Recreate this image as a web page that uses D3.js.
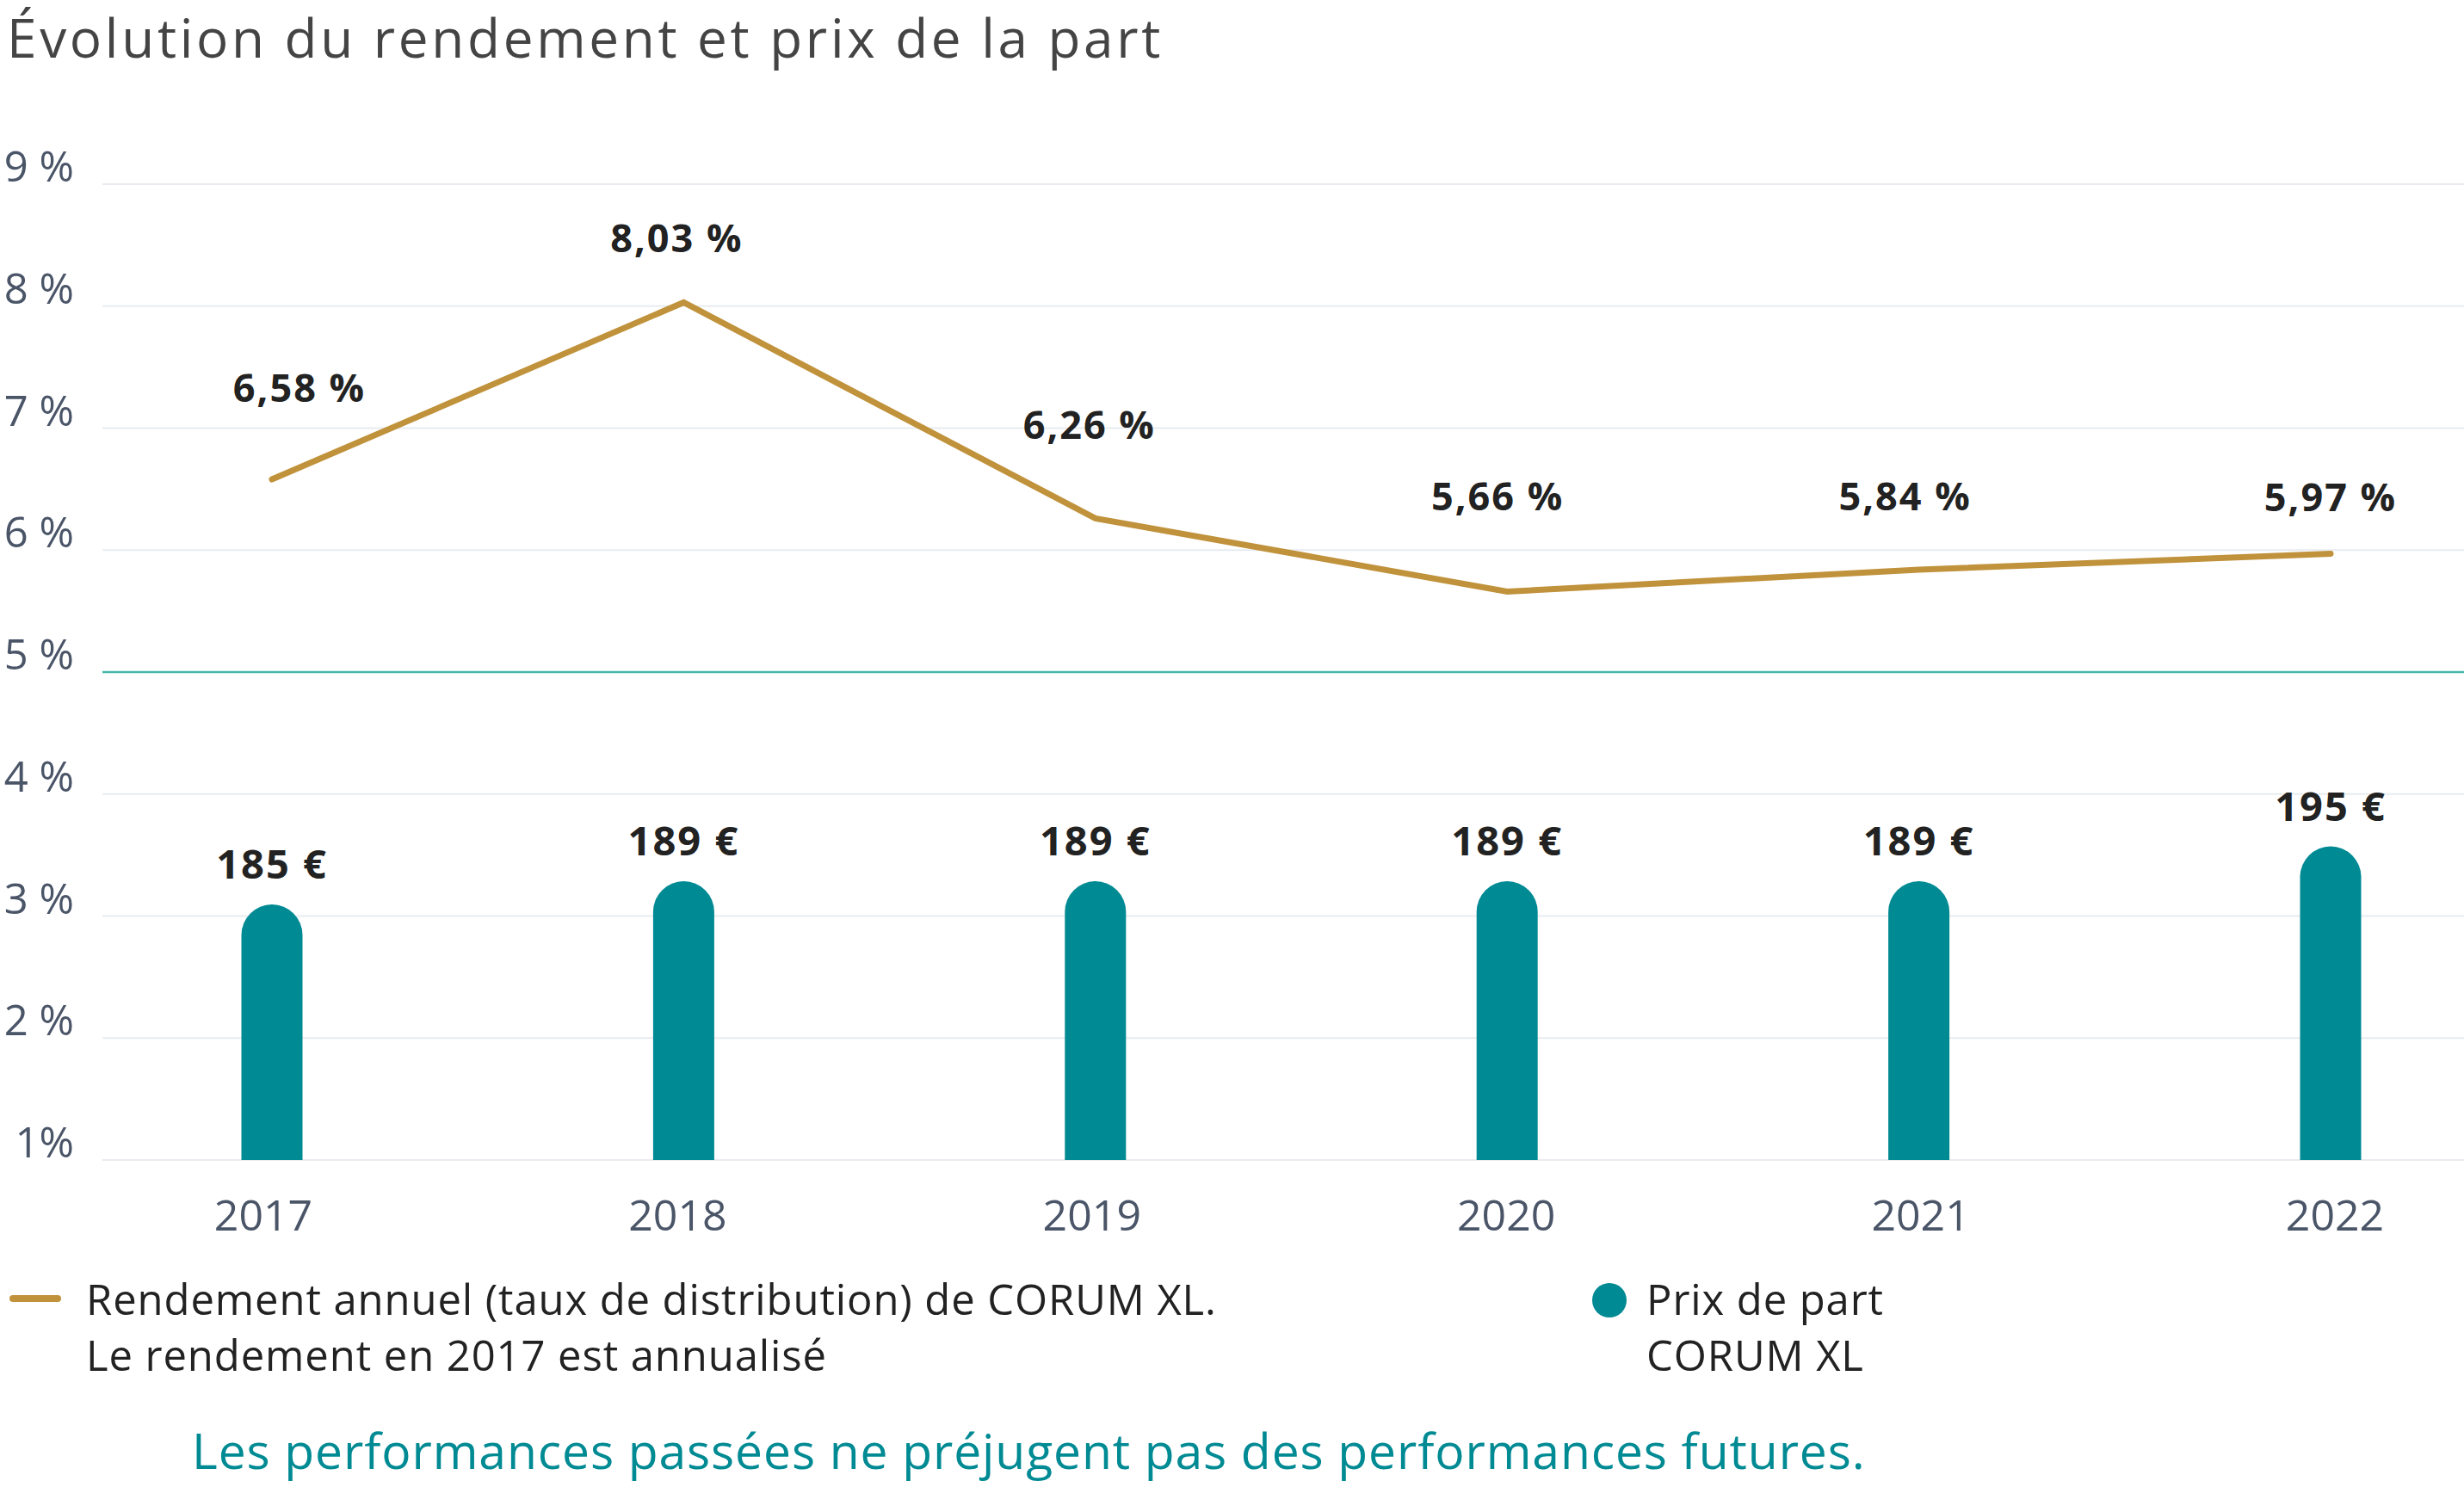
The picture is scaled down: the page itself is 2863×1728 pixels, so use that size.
<!DOCTYPE html>
<html>
<head>
<meta charset="utf-8">
<script src="https://cdn.jsdelivr.net/npm/d3@7"></script>
<style>
  html, body { margin: 0; padding: 0; background: #ffffff; }
  svg { display: block; }
  text { font-family: "Open Sans", "Noto Sans", sans-serif; }
</style>
</head>
<body>
<svg id="chart" width="2863" height="1728"></svg>
<script>
// ---- Data ----
const years = ["2017", "2018", "2019", "2020", "2021", "2022"];
const rendement = [6.58, 8.03, 6.26, 5.66, 5.84, 5.97];
const prixPart = [185, 189, 189, 189, 189, 195];
const yTickValues = [1, 2, 3, 4, 5, 6, 7, 8, 9];
const yTickLabels = ["1%", "2 %", "3 %", "4 %", "5 %", "6 %", "7 %", "8 %", "9 %"];
const title = "Évolution du rendement et prix de la part";
const legendLine = ["Rendement annuel (taux de distribution) de CORUM XL.", "Le rendement en 2017 est annualisé"];
const legendBar = ["Prix de part", "CORUM XL"];
const footer = "Les performances passées ne préjugent pas des performances futures.";

// ---- Styles ----
const GOLD = "#c0923b";
const TEAL = "#008a93";
const GRID = "#e8ecf0";
const AXIS_TXT = "#4a5568";
const DARK = "#222222";

const svg = d3.select("#chart");
const W = 2863;

// scales
const x = d3.scalePoint().domain(years).range([316, 2708]);
const xAxisScale = d3.scalePoint().domain(years).range([306, 2713]);
const y = d3.scaleLinear().domain([1, 9]).range([1348, 214]);
const yBar = d3.scaleLinear().domain([141, 201]).range([1348, 943]);

// title
svg.append("text")
  .attr("x", 8).attr("y", 67)
  .attr("font-size", 62).attr("letter-spacing", 3.7).attr("fill", "#444444")
  .text(title);

// grid lines
svg.append("g").selectAll("line")
  .data(yTickValues)
  .join("line")
  .attr("x1", 119).attr("x2", W)
  .attr("y1", d => y(d)).attr("y2", d => y(d))
  .attr("stroke", d => d === 5 ? "#45b8a8" : GRID)
  .attr("stroke-width", d => d === 5 ? 2.5 : 2);

// y tick labels
svg.append("g").selectAll("text")
  .data(yTickValues)
  .join("text")
  .attr("x", 86).attr("y", d => y(d) - 3)
  .attr("text-anchor", "end")
  .attr("font-size", 49).attr("fill", AXIS_TXT)
  .text((d, i) => yTickLabels[i]);

// x axis labels
svg.append("g").selectAll("text")
  .data(years)
  .join("text")
  .attr("x", d => xAxisScale(d)).attr("y", 1430)
  .attr("text-anchor", "middle")
  .attr("font-size", 50).attr("fill", AXIS_TXT)
  .text(d => d);

// bars with rounded top
const bw = 71, r = bw / 2;
const barData = years.map((yr, i) => ({ yr, v: prixPart[i] }));
svg.append("g").selectAll("path")
  .data(barData)
  .join("path")
  .attr("fill", TEAL)
  .attr("d", d => {
    const x0 = x(d.yr) - bw / 2, yb = yBar(141), yt = yBar(d.v);
    return `M${x0},${yb} L${x0},${yt + r} A${r},${r} 0 0 1 ${x0 + bw},${yt + r} L${x0 + bw},${yb} Z`;
  });

// bar labels
svg.append("g").selectAll("text")
  .data(barData)
  .join("text")
  .attr("x", d => x(d.yr)).attr("y", d => yBar(d.v) - 30)
  .attr("text-anchor", "middle")
  .attr("font-size", 47).attr("font-weight", 700).attr("letter-spacing", 2)
  .attr("fill", DARK)
  .text(d => d.v + " €");

// line
const lineData = years.map((yr, i) => ({ yr, v: rendement[i] }));
svg.append("path")
  .datum(lineData)
  .attr("fill", "none").attr("stroke", GOLD).attr("stroke-width", 7)
  .attr("stroke-linejoin", "miter").attr("stroke-linecap", "round")
  .attr("d", d3.line().x(d => x(d.yr)).y(d => y(d.v)));

// line labels (manual placement offsets, layout only)
const lblDx = [32, -8, -7, -11, -16, 0];
const lblDy = [-90, -58, -92, -94, -69, -50];
const fmt = v => d3.format(".2f")(v).replace(".", ",") + " %";
svg.append("g").selectAll("text")
  .data(lineData)
  .join("text")
  .attr("x", (d, i) => x(d.yr) + lblDx[i]).attr("y", (d, i) => y(d.v) + lblDy[i])
  .attr("text-anchor", "middle")
  .attr("font-size", 45).attr("font-weight", 700).attr("letter-spacing", 2)
  .attr("fill", DARK)
  .text(d => fmt(d.v));

// legend
const lg = svg.append("g");
lg.append("line").attr("x1", 15).attr("x2", 67).attr("y1", 1509).attr("y2", 1509)
  .attr("stroke", GOLD).attr("stroke-width", 8).attr("stroke-linecap", "round");
lg.selectAll("text.l1").data(legendLine).join("text").attr("class", "l1")
  .attr("x", 100).attr("y", (d, i) => 1528 + i * 65)
  .attr("font-size", 49).attr("letter-spacing", 0.9).attr("fill", DARK).text(d => d);
lg.append("circle").attr("cx", 1870).attr("cy", 1511).attr("r", 20).attr("fill", TEAL);
lg.selectAll("text.l2").data(legendBar).join("text").attr("class", "l2")
  .attr("x", 1913).attr("y", (d, i) => 1528 + i * 65)
  .attr("font-size", 49).attr("letter-spacing", 0.9).attr("fill", DARK).text(d => d);

// footer
svg.append("text")
  .attr("x", 223).attr("y", 1707)
  .attr("font-size", 57).attr("letter-spacing", 0.9).attr("fill", TEAL)
  .text(footer);
</script>
</body>
</html>
